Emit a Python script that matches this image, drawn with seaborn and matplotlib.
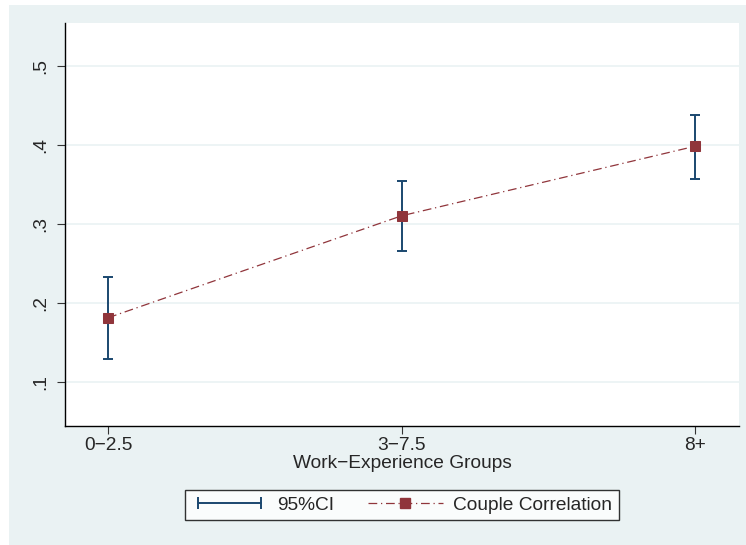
import matplotlib
matplotlib.use("Agg")
import matplotlib.pyplot as plt
from matplotlib.lines import Line2D
from matplotlib.patches import Rectangle
from matplotlib.legend_handler import HandlerLine2D
import pandas as pd
import seaborn as sns

# data
groups = ["0\u22122.5", "3\u22127.5", "8+"]
corr = [0.181, 0.310, 0.398]
ci_low = [0.129, 0.265, 0.357]
ci_high = [0.232, 0.354, 0.438]
yticks = [0.1, 0.2, 0.3, 0.4, 0.5]
ytick_labels = [".1", ".2", ".3", ".4", ".5"]

navy = "#1A476F"
maroon = "#90353B"
region = "#EAF2F3"

sns.set_style("white")
plt.rcParams["font.family"] = ["Liberation Sans", "DejaVu Sans"]

df = pd.DataFrame({"pos": range(len(groups)), "corr": corr})

fig = plt.figure(figsize=(7.46, 5.45), dpi=100, facecolor="white")
# graph region (Stata style) with thin white margin at left/top
fig.patches.append(Rectangle((9 / 746, 0), 1, 1 - 5 / 545, transform=fig.transFigure,
                             facecolor=region, edgecolor="none", zorder=-10))

ax = fig.add_axes([65 / 746, 1 - 426 / 545, (739 - 65) / 746, (426 - 23) / 545])
ax.set_facecolor("white")

# CI caps
yerr = [[c - l for c, l in zip(corr, ci_low)], [h - c for c, h in zip(corr, ci_high)]]
ax.errorbar(df["pos"], df["corr"], yerr=yerr, fmt="none", ecolor=navy,
            elinewidth=1.4, capsize=3.6, capthick=1.4, zorder=3)

sns.lineplot(data=df, x="pos", y="corr", ax=ax, color=maroon, linewidth=0.9,
             linestyle=(0, (7, 3, 1, 3)), marker="s", markersize=6.5,
             markeredgecolor=maroon, markerfacecolor=maroon, zorder=4)

ax.set_xlim(-0.147, 2.15)
ax.set_ylim(0.044, 0.554)
ax.set_xticks(range(len(groups)))
ax.set_xticklabels(groups, fontsize=13.8)
ax.set_yticks(yticks)
ax.set_yticklabels(ytick_labels, fontsize=13.8, rotation=90, va="center")
ax.yaxis.grid(True, color=region, linewidth=1.2)
ax.xaxis.grid(False)
ax.set_axisbelow(True)

for s in ["top", "right"]:
    ax.spines[s].set_visible(False)
for s in ["left", "bottom"]:
    ax.spines[s].set_color("black")
    ax.spines[s].set_linewidth(1.0)
ax.tick_params(axis="both", direction="out", length=6, width=0.8, color="#333333",
               left=True, bottom=True)
ax.tick_params(axis="x", pad=2)
ax.tick_params(axis="y", pad=5)

ax.set_xlabel("Work\u2212Experience Groups", fontsize=13.8, labelpad=1)
ax.set_ylabel("")

ci_handle = Line2D([], [], color=navy, linewidth=1.4, marker="|", markersize=8,
                   markeredgewidth=1.4)
corr_handle = Line2D([], [], color=maroon, linewidth=0.9, linestyle=(0, (7, 3, 1, 3)),
                     marker="s", markersize=6.5)
leg = fig.legend([ci_handle, corr_handle], ["95%CI", "Couple Correlation"],
                 loc="center", bbox_to_anchor=(402 / 746, 1 - 505 / 545), ncol=2,
                 fontsize=13.8, frameon=True, fancybox=False, handlelength=3.9,
                 handletextpad=0.55, columnspacing=1.75, borderpad=0.35,
                 handler_map={ci_handle: HandlerLine2D(numpoints=2)})
leg.get_frame().set_edgecolor("black")
leg.get_frame().set_linewidth(1.0)
leg.get_frame().set_facecolor("white")

fig.savefig("out.png", dpi=100, facecolor=fig.get_facecolor())
